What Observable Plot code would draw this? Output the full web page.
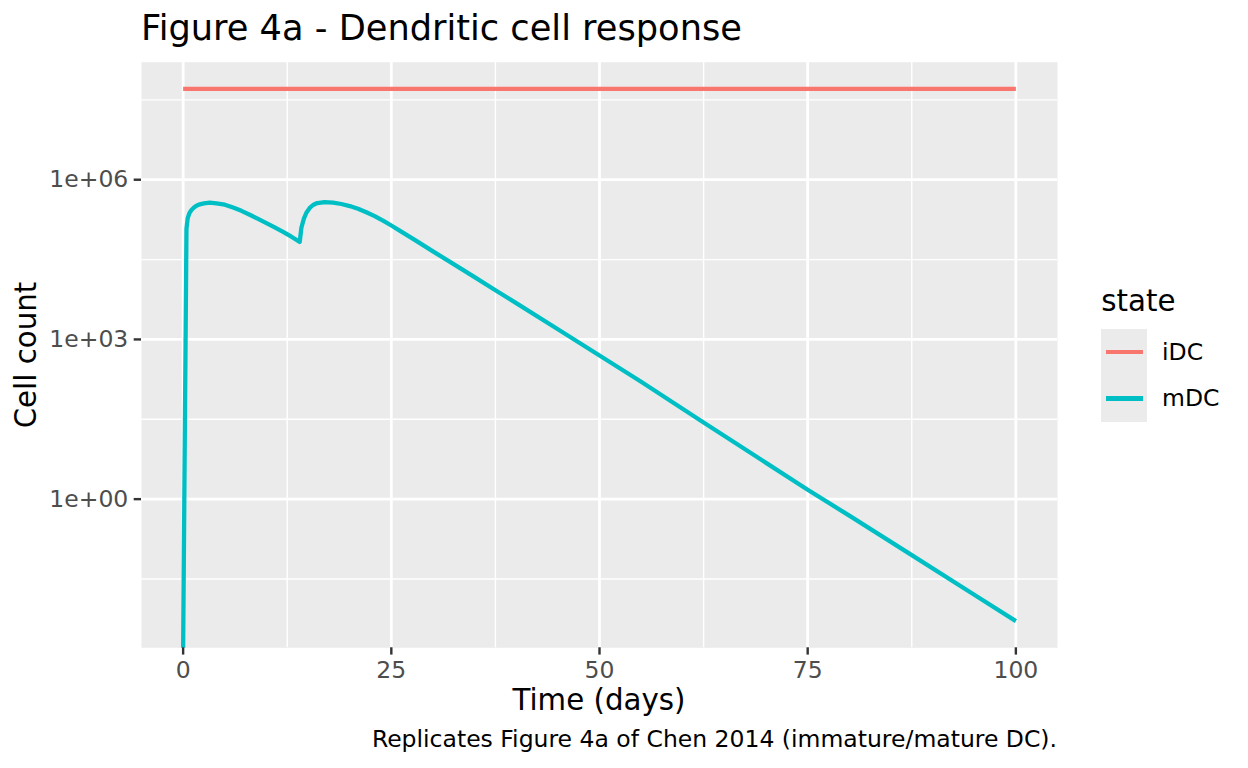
<!DOCTYPE html>
<html>
<head>
<meta charset="utf-8">
<script src="https://cdn.jsdelivr.net/npm/d3@7"></script>
<script src="https://cdn.jsdelivr.net/npm/@observablehq/plot@0.6"></script>
<style>
  html, body { margin: 0; padding: 0; background: #fff; }
  #wrap { position: relative; width: 1248px; height: 768px; background: #fff; font-family: "DejaVu Sans", sans-serif; overflow: hidden; }
  #wrap svg.plot { position: absolute; left: 0; top: 0; }
  .t { position: absolute; line-height: 1; white-space: nowrap; }
</style>
</head>
<body>
<div id="wrap"></div>
<script>
// ---------- data ----------
const titleText = "Figure 4a - Dendritic cell response";
const captionText = "Replicates Figure 4a of Chen 2014 (immature/mature DC).";
const xTitle = "Time (days)";
const yTitle = "Cell count";
const legendTitle = "state";

const seriesNames = ["iDC", "mDC"];
const seriesColors = ["#F8766D", "#00BFC4"];

const iDCTimes  = [0, 14, 25, 50, 75, 100];
const iDCValues = [5.1e7, 5.1e7, 5.1e7, 5.1e7, 5.1e7, 5.1e7];

const mDCTimes = [0, 0.4, 0.55, 0.75, 1, 1.3, 1.6, 2, 2.5, 3.2, 4, 5, 6, 7, 8, 9, 10, 11, 12, 13, 14,
  14.2, 14.5, 14.8, 15.2, 15.6, 16.1, 17, 18, 19, 20, 21, 22, 23, 24, 25, 26, 28, 30, 32, 35, 37.5, 40, 45, 50, 55,
  62.5, 70, 75, 80, 87.5, 95, 100];
const mDCValues = [0, 1.2e5, 1.9e5, 2.35e5, 2.7e5, 3.0e5, 3.25e5, 3.45e5, 3.6e5, 3.7e5, 3.6e5, 3.4e5, 3.0e5,
  2.6e5, 2.2e5, 1.84e5, 1.53e5, 1.27e5, 1.05e5, 8.5e4, 6.8e4,
  1.25e5, 1.86e5, 2.4e5, 2.95e5, 3.35e5, 3.65e5, 3.8e5, 3.72e5, 3.5e5, 3.2e5, 2.85e5, 2.45e5, 2.07e5, 1.7e5,
  1.38e5, 1.11e5, 7.1e4, 4.5e4, 2.9e4, 1.48e4, 8.4e3, 4.8e3, 1.55e3, 500, 160, 27.5, 4.8, 1.5, 0.49, 0.089, 0.016, 0.0051];

const xTicks = [0, 25, 50, 75, 100];
const xMinor = [12.5, 37.5, 62.5, 87.5];
const yTicks = [1, 1e3, 1e6];
const yTickLabels = ["1e+00", "1e+03", "1e+06"];
const yMinor = [10 ** -1.5, 10 ** 1.5, 10 ** 4.5, 10 ** 7.5];

// ---------- build table ----------
const rows = [
  ...iDCTimes.map((t, i) => ({t, value: iDCValues[i], state: "iDC"})),
  ...mDCTimes.map((t, i) => ({t, value: mDCValues[i], state: "mDC"}))
];

// ggplot-like 5% expansion (log space for y, non-finite values excluded)
const xr = d3.extent(rows, d => d.t);
const xPad = (xr[1] - xr[0]) * 0.05;
const xDomain = [xr[0] - xPad, xr[1] + xPad];
const ly = d3.extent(rows.filter(d => d.value > 0), d => Math.log10(d.value));
const yPad = (ly[1] - ly[0]) * 0.05;
const yDomain = [10 ** (ly[0] - yPad), 10 ** (ly[1] + yPad)];
const yLabel = new Map(yTicks.map((v, i) => [v, yTickLabels[i]]));

// ---------- layout ----------
const W = 1248, H = 768;
const panel = {left: 141, right: 1057, top: 61.7, bottom: 647.3};
const fsTick = 23.5, fsAxisTitle = 29.3, fsTitle = 35.2;
const grid = "#FFFFFF";

const chart = Plot.plot({
  width: W,
  height: H,
  marginLeft: panel.left,
  marginRight: W - panel.right,
  marginTop: panel.top,
  marginBottom: H - panel.bottom,
  style: {fontFamily: "DejaVu Sans", background: "transparent", overflow: "visible"},
  x: {domain: xDomain},
  y: {type: "log", domain: yDomain},
  color: {domain: seriesNames, range: seriesColors},
  marks: [
    Plot.frame({fill: "#EBEBEB", stroke: "none"}),
    Plot.gridX(xMinor, {stroke: grid, strokeOpacity: 1, strokeWidth: 1.4}),
    Plot.gridY(yMinor, {stroke: grid, strokeOpacity: 1, strokeWidth: 1.4}),
    Plot.gridX(xTicks, {stroke: grid, strokeOpacity: 1, strokeWidth: 2.8}),
    Plot.gridY(yTicks, {stroke: grid, strokeOpacity: 1, strokeWidth: 2.8}),
    Plot.line(rows, {
      x: "t",
      y: d => Math.max(d.value, yDomain[0]),
      z: "state",
      stroke: "state",
      strokeWidth: 4.3,
      strokeLinecap: "butt",
      strokeLinejoin: "round"
    }),
    Plot.axisX(xTicks, {
      tickSize: 7.3, tickPadding: 5.8, fontSize: fsTick,
      color: "#4D4D4D", stroke: "#333333", strokeWidth: 2.4,
      tickFormat: d => String(d), label: null
    }),
    Plot.axisY(yTicks, {
      tickSize: 7.3, tickPadding: 5.9, fontSize: fsTick,
      color: "#4D4D4D", stroke: "#333333", strokeWidth: 2.4,
      tickFormat: d => yLabel.get(d), label: null
    })
  ]
});
chart.classList.add("plot");

const wrap = document.getElementById("wrap");
wrap.appendChild(chart);

// ---------- text outside the plot ----------
const BASE = 0.846; // baseline offset (em) for DejaVu Sans with line-height 1
function addText(txt, fs, css) {
  const el = document.createElement("div");
  el.className = "t";
  el.textContent = txt;
  el.style.fontSize = fs + "px";
  Object.assign(el.style, css);
  wrap.appendChild(el);
  return el;
}
// title
addText(titleText, fsTitle, {left: panel.left + "px", top: (40 - BASE * fsTitle) + "px", color: "#000"});
// x title
addText(xTitle, fsAxisTitle, {
  left: ((panel.left + panel.right) / 2) + "px", top: (711 - BASE * fsAxisTitle) + "px",
  transform: "translateX(-50%)", color: "#000"
});
// y title (rotated)
addText(yTitle, fsAxisTitle, {
  left: (36.7 - BASE * fsAxisTitle) + "px", top: ((panel.top + panel.bottom) / 2) + "px",
  transformOrigin: "0 0", transform: "rotate(-90deg) translate(-50%, 0)", color: "#000"
});
// caption
addText(captionText, fsTick, {right: (W - panel.right) + "px", top: (748.3 - BASE * fsTick) + "px", color: "#000"});

// legend
const legLeft = 1101.2, keyTop = 329.2, keySize = 46.2;
addText(legendTitle, fsAxisTitle, {left: legLeft + "px", top: (311.7 - BASE * fsAxisTitle) + "px", color: "#000"});
seriesNames.forEach((name, i) => {
  const key = document.createElement("div");
  Object.assign(key.style, {
    position: "absolute", left: legLeft + "px", top: (keyTop + i * keySize) + "px",
    width: keySize + "px", height: keySize + "px", background: "#EBEBEB"
  });
  const ln = document.createElement("div");
  Object.assign(ln.style, {
    position: "absolute", left: (keySize * 0.1) + "px", width: (keySize * 0.8) + "px",
    top: (keySize / 2 - 2.15) + "px", height: "4.3px", background: seriesColors[i]
  });
  key.appendChild(ln);
  wrap.appendChild(key);
  const center = keyTop + i * keySize + keySize / 2;
  addText(name, fsTick, {left: (legLeft + keySize + 14.7) + "px", top: (center + 8.8 - BASE * fsTick) + "px", color: "#000"});
});
</script>
</body>
</html>
